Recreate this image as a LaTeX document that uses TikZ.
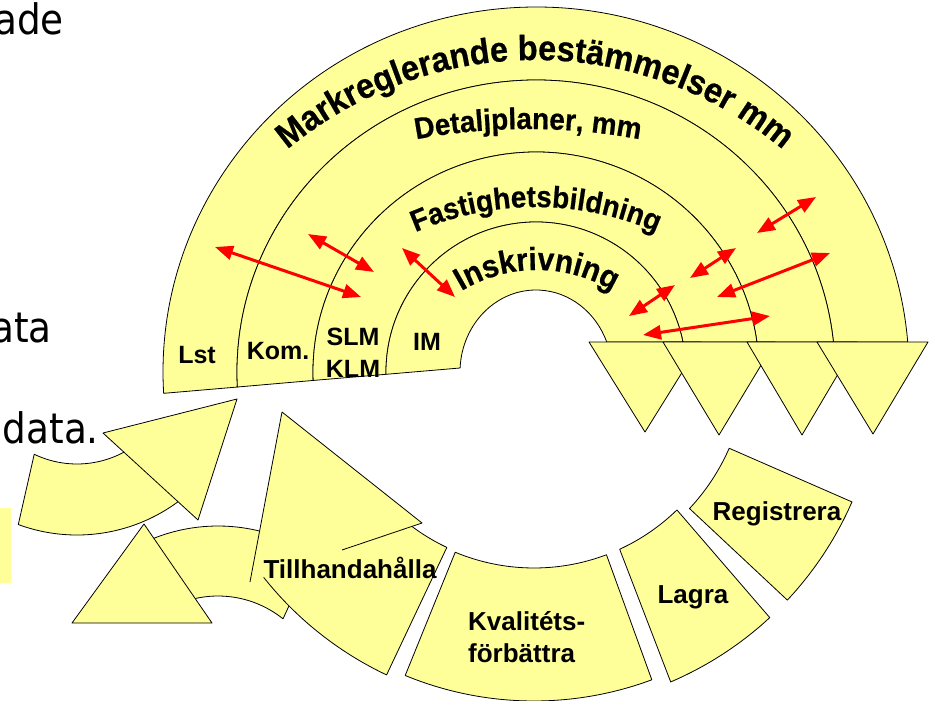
\documentclass[tikz,border=0pt]{standalone}
\usepackage{fontspec}
\setmainfont{Liberation Sans}
\newfontfamily\slidefont{DejaVu Sans}[FakeStretch=0.89]
\newfontfamily\arcfont{Liberation Sans Bold}[FakeStretch=0.93,FakeBold=0.6]
\usetikzlibrary{arrows.meta,decorations.text}
\definecolor{paleyellow}{RGB}{255,255,153}
\newcommand\bigarcfont{\arcfont\fontsize{35}{40}\selectfont}
\newcommand\midarcfont{\arcfont\fontsize{30}{36}\selectfont}
\newcommand\innerarcfont{\arcfont\fontsize{32}{38}\selectfont}
\tikzset{
    part/.style={fill=paleyellow,draw=black,line width=0.8pt,line join=round},
    rim/.style={draw=black,line width=0.8pt,line join=round},
    lbl/.style={font=\fontsize{25}{32}\selectfont\bfseries,inner sep=0pt,anchor=base},
    biglbl/.style={lbl,font=\fontsize{26}{32}\selectfont\bfseries},
    link/.style={red,line width=3pt,{Triangle[length=18pt,width=14pt]}-{Triangle[length=18pt,width=14pt]}},
    arctext/.style={decorate,decoration={text along path,text align=center,text={#1}}},
    slide/.style={font=\slidefont\fontsize{42}{50}\selectfont,inner sep=0pt,anchor=base east}
}
\begin{document}
\begin{tikzpicture}[x=1pt,y=-1pt]
\useasboundingbox (0,0) rectangle (932,701);
% cut-off slide text
\node[slide] (ade) at (64,35) {ade};
\node[slide] (ata) at (52,342) {ata};
\node[slide] (data) at (99,443) {data.};
\fill[paleyellow] (0,508) rectangle (11,583);

% upper half rings
\foreach \ux/\uy/\ua/\ub/\vx/\vy/\va/\vb in {373/365/-4.71/-183.35/299/292/-182.95/-5.90,
    299/292/-5.90/-182.95/223/220/-182.2/-7.84,
    223/220/-7.84/-182.2/150/150/-180.88/-11.54,
    150/150/-11.54/-180.88/76/82/-177.2/-21.46}
  \draw[part] ({536+\ux*cos(\ua)},{372+\uy*sin(\ua)}) arc[start angle=\ua,end angle=\ub,x radius=\ux,y radius=\uy]
    -- ({536+\vx*cos(\va)},{372+\vy*sin(\va)}) arc[start angle=\va,end angle=\vb,x radius=\vx,y radius=\vy] -- cycle;
\foreach \xl/\xr/\xb/\yb in {589/701/645/432,663/775/719/435,747/857/802/435,817/928/873/434}
  \draw[part] (\xl,342) -- (\xr,342) -- (\xb,\yb) -- cycle;

\path[arctext={|\bigarcfont|Markreglerande bestämmelser mm}] ([shift={(535,447)}]-135:387) arc[start angle=-135,end angle=-45,radius=387];
\path[arctext={|\midarcfont|Detaljplaner, mm}] ([shift={(528,739)}]-104:610) arc[start angle=-104,end angle=-76,radius=610];
\path[arctext={|\midarcfont|Fastighetsbildning}] ([shift={(536,507)}]-120:300) arc[start angle=-120,end angle=-60,radius=300];
\path[arctext={|\innerarcfont|Inskrivning}] ([shift={(537,416)}]-140:146) arc[start angle=-140,end angle=-40,radius=146];

\node[lbl] (lst) at (197,363) {Lst};
\node[lbl] (kom) at (278,359) {Kom.};
\node[lbl,align=center] (slm) at (353,377) {SLM\\KLM};
\node[lbl] (im) at (427,350) {IM};

% links between the levels
\foreach \n/\p/\q in {1/{215,247}/{361,297},2/{308,234}/{374,272},3/{402,248}/{455,297},
    4/{757,233}/{816,197},5/{690,278}/{736,248},6/{717,297}/{830,253},
    7/{629,316}/{675,285},8/{643,335}/{770,316}}{
  \coordinate (s\n) at (\p);
  \coordinate (e\n) at (\q);
  \draw[link] (s\n) -- (e\n);
}

% lower cycle
\draw[part] ([shift={(77,365)}]115.6:99) arc[start angle=115.6,end angle=40,radius=99]
  -- ([shift={(77,365)}]40:170) arc[start angle=40,end angle=110.2,radius=170] -- cycle;
\draw[part] (103,433) -- (237,399) -- (198,520) -- cycle;
\draw[part] ([shift={(218,700)}]-118:174) arc[start angle=-118,end angle=-57,radius=174]
  -- ([shift={(218,700)}]-51.3:104) arc[start angle=-51.3,end angle=-118,radius=104] -- cycle;
\draw[part] (72,623) -- (212,623) -- (144,524) -- cycle;
\draw[part] ([shift={(534,363)}]115.3:204) arc[start angle=115.3,end angle=130,radius=204]
  -- ([shift={(534,363)}]142:345) arc[start angle=142,end angle=115.3,radius=345] -- cycle;
\fill[paleyellow] (282,412) -- (422,523) -- (250,582) -- cycle;
\draw[rim] (342,550) -- (422,523) -- (282,412) -- (250,582);
\draw[part] ([shift={(534,363)}]69.3:205) arc[start angle=69.3,end angle=112.6,radius=205]
  -- ([shift={(534,363)}]112.4:338) arc[start angle=112.4,end angle=69.6,radius=338] -- cycle;
\draw[part] ([shift={(534,363)}]45.8:205) arc[start angle=45.8,end angle=65.3,radius=205]
  -- ([shift={(534,363)}]66.8:347) arc[start angle=66.8,end angle=47.2,radius=347] -- cycle;
\draw[part] ([shift={(534,363)}]23.6:213) arc[start angle=23.6,end angle=43.1,radius=213]
  -- ([shift={(534,363)}]43.1:347) arc[start angle=43.1,end angle=23.6,radius=347] -- cycle;

\node[biglbl] (till) at (350,578) {Tillhandahålla};
\node[biglbl,anchor=base west,align=left] (kval) at (468,662) {Kvalitéts-\\förbättra};
\node[biglbl] (lagra) at (693,603) {Lagra};
\node[biglbl] (reg) at (777,520) {Registrera};
\end{tikzpicture}
\end{document}
